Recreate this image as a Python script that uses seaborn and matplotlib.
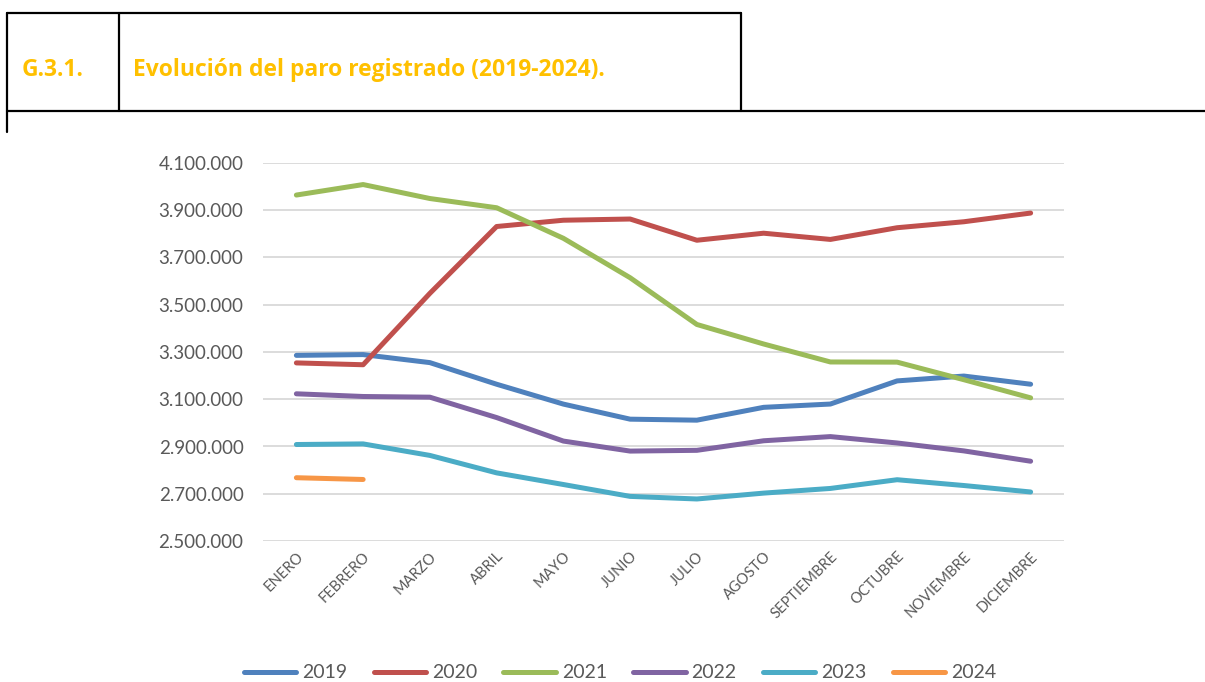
import numpy as np
import pandas as pd
import matplotlib
matplotlib.use("Agg")
import matplotlib.pyplot as plt
import seaborn as sns
from matplotlib.lines import Line2D
from matplotlib.ticker import FuncFormatter

# ── Data ──────────────────────────────────────────────────────────────────────
meses = ["ENERO", "FEBRERO", "MARZO", "ABRIL", "MAYO", "JUNIO", "JULIO",
         "AGOSTO", "SEPTIEMBRE", "OCTUBRE", "NOVIEMBRE", "DICIEMBRE"]

paro_2019 = [3285761, 3289040, 3255084, 3163566, 3079491, 3015686,
             3011433, 3065804, 3079711, 3177659, 3198184, 3163605]
paro_2020 = [3253853, 3246047, 3548312, 3831203, 3857776, 3862883,
             3773034, 3802814, 3776485, 3826043, 3851312, 3888137]
paro_2021 = [3964353, 4008789, 3949640, 3910628, 3781250, 3614339,
             3416498, 3333915, 3257802, 3257068, 3182687, 3105905]
paro_2022 = [3123078, 3111684, 3108763, 3022503, 2922991, 2880582,
             2883812, 2924240, 2941919, 2914892, 2881380, 2837653]
paro_2023 = [2908397, 2911015, 2862260, 2788370, 2739110, 2688842,
             2677874, 2702700, 2722468, 2759404, 2734831, 2707456]
paro_2024 = [2767860, 2760408]

series = {
    "2019": paro_2019,
    "2020": paro_2020,
    "2021": paro_2021,
    "2022": paro_2022,
    "2023": paro_2023,
    "2024": paro_2024,
}
colores = {
    "2019": "#4F81BD",
    "2020": "#C0504D",
    "2021": "#9BBB59",
    "2022": "#8064A2",
    "2023": "#4BACC6",
    "2024": "#F79646",
}

rows = []
for anio, vals in series.items():
    for i, v in enumerate(vals):
        rows.append({"mes": i, "anio": anio, "paro": v})
df = pd.DataFrame(rows)

# ── Plot ──────────────────────────────────────────────────────────────────────
sns.set_style("white")
plt.rcParams["font.family"] = ["Lato", "DejaVu Sans"]

W, H = 1205, 682
fig = plt.figure(figsize=(W / 100, H / 100), dpi=100)
ax = fig.add_axes([263 / W, 1 - 541 / H, (1064 - 263) / W, (541 - 163) / H])

sns.lineplot(data=df, x="mes", y="paro", hue="anio", palette=colores,
             linewidth=3.6, ax=ax, legend=False, sort=False,
             solid_capstyle="round")

ax.set_xlim(-0.5, 11.5)
ax.set_ylim(2500000, 4100000)
ax.set_yticks(np.arange(2500000, 4100001, 200000))
ax.yaxis.set_major_formatter(FuncFormatter(lambda v, p: f"{int(v):,}".replace(",", ".")))
ax.set_xticks(range(len(meses)))
ax.set_xticklabels(meses, rotation=45, ha="right", rotation_mode="anchor",
                   fontsize=10.5, color="#595959")
ax.tick_params(axis="y", labelsize=13.5, labelcolor="#595959", length=0, pad=14)
ax.tick_params(axis="x", length=0, pad=6)
ax.set_xlabel("")
ax.set_ylabel("")
ax.grid(axis="y", color="#D9D9D9", linewidth=1.3)
ax.set_axisbelow(True)
for s in ax.spines.values():
    s.set_visible(False)

# Legend
handles = [Line2D([0], [0], color=colores[a], lw=3.6, solid_capstyle="round")
           for a in series]
fig.legend(handles, list(series.keys()), loc="center", ncol=6,
           bbox_to_anchor=(620 / W, 1 - 673 / H), frameon=False,
           fontsize=14, handlelength=2.7, handletextpad=0.3, columnspacing=1.35,
           labelcolor="#595959")

# ── Header box ────────────────────────────────────────────────────────────────
def px_line(x0, y0, x1, y1, lw=1.6):
    fig.add_artist(Line2D([x0 / W, x1 / W], [1 - y0 / H, 1 - y1 / H],
                          color="black", lw=lw, transform=fig.transFigure))

px_line(7, 13, 741, 13)
px_line(7, 111, 1205, 111)
px_line(7, 13, 7, 132)
px_line(119, 13, 119, 111)
px_line(741, 13, 741, 111)

hdr = dict(color="#FFC000", fontsize=16.5, fontweight="bold", va="center",
           ha="left", family=["Open Sans", "DejaVu Sans"])
fig.text(22 / W, 1 - 70 / H, "G.3.1.", **hdr)
fig.text(133 / W, 1 - 70 / H, "Evolución del paro registrado (2019-2024).", **hdr)

fig.savefig("out.png", dpi=100)
